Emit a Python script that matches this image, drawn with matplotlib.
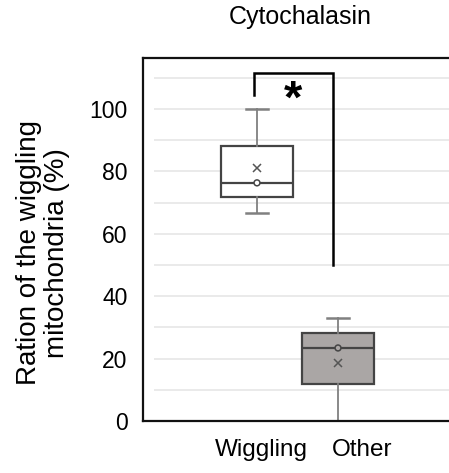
import matplotlib
matplotlib.use('Agg')
import matplotlib.pyplot as plt

plt.rcParams['font.family'] = ['Liberation Sans', 'DejaVu Sans']

# summary stats for each group (%)
groups = ['Wiggling', 'Other']
whis_lo = [66.7, 0.0]
q1 = [71.8, 12.0]
medians = [76.3, 23.4]
q3 = [88.0, 28.2]
whis_hi = [100.0, 33.0]
means = [81.0, 18.6]
box_colors = ['white', '#aaa6a5']

positions = [1, 2]
label_pos = [1.06, 2.30]

fig = plt.figure(figsize=(4.49, 4.73), dpi=100)
ax = fig.add_axes([143 / 449, 1 - 421 / 473, 1 - 143 / 449, (421 - 58) / 473])

# light horizontal gridlines every 10%
ax.hlines(range(10, 111, 10), -0.27, 3.5, colors='#e6e6e6', linewidth=1.2, zorder=0)

stats = []
for i in range(len(groups)):
    stats.append(dict(label=groups[i], whislo=whis_lo[i], q1=q1[i], med=medians[i],
                      q3=q3[i], whishi=whis_hi[i], mean=means[i], fliers=[]))

bp = ax.bxp(stats, positions=positions, widths=0.9, patch_artist=True,
            showmeans=True, showfliers=False,
            boxprops=dict(edgecolor='#444444', linewidth=1.6),
            whiskerprops=dict(color='#808080', linewidth=1.3),
            capprops=dict(color='#808080', linewidth=1.8),
            medianprops=dict(color='#444444', linewidth=1.6),
            meanprops=dict(marker='x', markeredgecolor='#555555', markersize=6,
                           markeredgewidth=1.1),
            capwidths=0.26)
for patch, c in zip(bp['boxes'], box_colors):
    patch.set_facecolor(c)

# small circle on the median line
ax.scatter(positions, medians, s=18, facecolor=box_colors, edgecolor='#444444',
           linewidth=1.1, zorder=4)

# significance bracket
ax.plot([0.963, 0.963, 1.938, 1.938], [104.5, 111.6, 111.6, 50], color='black',
        linewidth=1.8, solid_joinstyle='miter', zorder=5)
ax.text(1.44, 102.5, '*', fontsize=34, fontweight='bold', ha='center', va='center')

ax.set_xlim(-0.407, 3.37)
ax.set_ylim(0, 116.3)
ax.set_yticks(range(0, 101, 20))
ax.set_xticks(label_pos)
ax.set_xticklabels(groups, fontsize=17.5)
ax.tick_params(axis='both', length=0, labelsize=16.5)
ax.tick_params(axis='y', pad=11)
ax.tick_params(axis='x', pad=13, labelsize=17.5)

for side in ['left', 'top', 'bottom']:
    ax.spines[side].set_linewidth(1.6)
    ax.spines[side].set_color('#111111')
ax.spines['right'].set_visible(False)

ax.set_ylabel('Ration of the wiggling\nmitochondria (%)', fontsize=20,
              linespacing=1.1)
ax.yaxis.set_label_coords(-0.24, 0.463)
fig.text(300 / 449, 1 - 17 / 473, 'Cytochalasin', fontsize=18, ha='center', va='center')

fig.savefig('out.png', dpi=100)
